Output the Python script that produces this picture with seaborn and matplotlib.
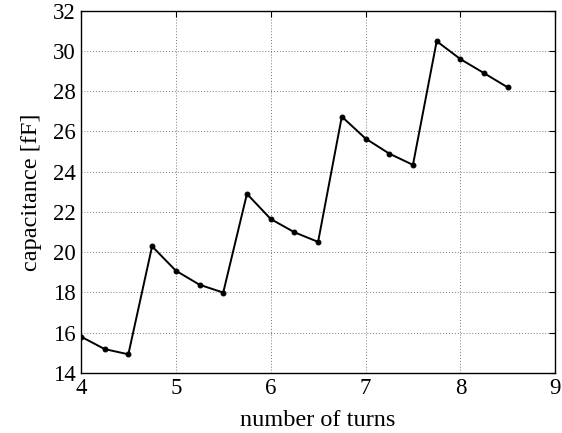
import pandas as pd
import numpy as np
import matplotlib.pyplot as plt
import seaborn as sns

sns.set_style("white")
plt.rcParams['font.family'] = ['Liberation Serif', 'DejaVu Serif']
plt.rcParams['text.color'] = 'black'
plt.rcParams['axes.labelcolor'] = 'black'

#data

turns = [4.0, 4.25, 4.5, 4.75, 5.0, 5.25, 5.5, 5.75, 6.0, 6.25,
         6.5, 6.75, 7.0, 7.25, 7.5, 7.75, 8.0, 8.25, 8.5]
capacitance = [15.8, 15.18, 14.92, 20.29, 19.08, 18.38, 17.99, 22.9, 21.65, 20.99,
               20.51, 26.74, 25.65, 24.9, 24.34, 30.49, 29.6, 28.9, 28.19]

df = pd.DataFrame({'turns': turns, 'capacitance': capacitance})

fig = plt.figure(figsize=(5.62, 4.33), dpi=100)
ax = fig.add_axes([0.144, 0.139, 0.844, 0.836])

sns.lineplot(data=df, x='turns', y='capacitance', ax=ax, color='black',
             linewidth=1.4, marker='o', markersize=3.5, markeredgecolor='black')

ax.set_xlim(4, 9)
ax.set_ylim(14, 32)
ax.set_xticks(range(4, 10))
ax.set_yticks(range(14, 33, 2))
ax.grid(True, linestyle=(0, (1, 2)), color='#777777', linewidth=0.7)
ax.tick_params(direction='in', top=True, right=True, length=4, labelsize=16.5, colors='black')
for s in ax.spines.values():
    s.set_color('black')
    s.set_linewidth(1.0)

ax.set_xlabel("number of turns", fontsize=17.5, labelpad=8)
ax.set_ylabel("capacitance [fF]", fontsize=17.5, labelpad=8)

plt.savefig("out.png", dpi=100)
